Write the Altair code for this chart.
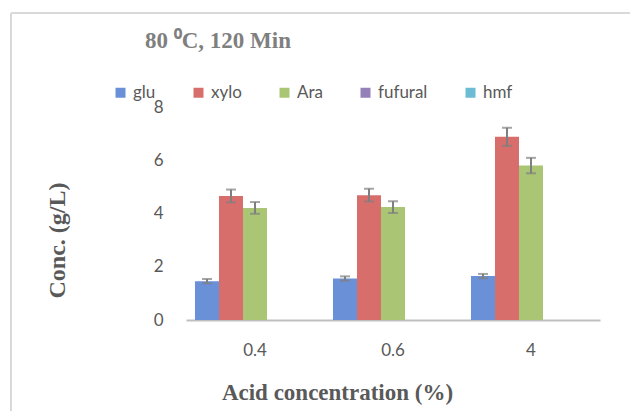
import altair as alt
import pandas as pd

categories = ["0.4", "0.6", "4"]
series = ["glu", "xylo", "Ara", "fufural", "hmf"]
glu = [1.46, 1.56, 1.65]
xylo = [4.66, 4.69, 6.88]
ara = [4.21, 4.24, 5.80]
fufural = [0.0, 0.0, 0.0]
hmf = [0.0, 0.0, 0.0]
glu_err = [0.08, 0.08, 0.08]
xylo_err = [0.24, 0.24, 0.34]
ara_err = [0.22, 0.22, 0.29]
colors = ["#6a90d8", "#d86e6b", "#aac674", "#9580b8", "#6cbcd4"]

values = {"glu": glu, "xylo": xylo, "Ara": ara, "fufural": fufural, "hmf": hmf}
errors = {"glu": glu_err, "xylo": xylo_err, "Ara": ara_err}

rows = []
for s in series:
    for i, c in enumerate(categories):
        v = values[s][i]
        e = errors.get(s)
        rows.append({
            "cat": c, "series": s, "value": v,
            "lo": (v - e[i]) if e else None,
            "hi": (v + e[i]) if e else None,
        })
df = pd.DataFrame(rows)

xenc = alt.X("cat:N", sort=categories,
             scale=alt.Scale(paddingInner=0.13, paddingOuter=0.065),
             axis=alt.Axis(title="Acid concentration (%)", labelAngle=0,
                           labelFont="Lato", labelFontSize=17, labelColor="#595959",
                           labelPadding=22, ticks=False, domainColor="#bfbfbf",
                           domainWidth=2, grid=False,
                           titleFont="Liberation Serif", titleFontSize=23,
                           titleFontWeight="bold", titleColor="#595959",
                           titleX=151, titleY=72, titleBaseline="middle",
                           titleAlign="center"))
xoff = alt.XOffset("series:N", sort=series,
                   scale=alt.Scale(domain=series, paddingInner=0, paddingOuter=0))

y_axis = alt.Axis(title="Conc. (g/L)", values=[0, 2, 4, 6, 8],
                  labelFont="Lato", labelFontSize=17, labelColor="#595959",
                  labelPadding=23, ticks=False, domain=False, grid=False,
                  titleFont="Liberation Serif", titleFontSize=24,
                  titleFontWeight="bold", titleColor="#595959",
                  titleAngle=270, titleX=-129, titleY=133,
                  titleBaseline="middle", titleAlign="center")
y_scale = alt.Scale(domain=[0, 8])

base = alt.Chart(df).encode(x=xenc, xOffset=xoff)

bars = base.mark_bar().encode(
    y=alt.Y("value:Q", scale=y_scale, axis=y_axis),
    color=alt.Color("series:N", sort=series,
                    scale=alt.Scale(domain=series, range=colors),
                    legend=alt.Legend(title=None, orient="none", direction="horizontal",
                                      columns=5, legendX=-74, legendY=-23,
                                      symbolType="square", symbolSize=100,
                                      symbolStrokeWidth=0, labelFont="Lato",
                                      labelFontSize=17, labelColor="#595959",
                                      labelOffset=4, columnPadding=34)),
)

err = base.transform_filter("datum.lo != null")
rules = err.mark_rule(color="#7f7f7f", strokeWidth=2).encode(
    y=alt.Y("lo:Q", scale=y_scale, axis=y_axis), y2="hi:Q")
caps_lo = err.mark_tick(color="#7f7f7f", size=10, thickness=2).encode(
    y=alt.Y("lo:Q", scale=y_scale, axis=y_axis))
caps_hi = err.mark_tick(color="#7f7f7f", size=10, thickness=2).encode(
    y=alt.Y("hi:Q", scale=y_scale, axis=y_axis))

frame_df = pd.DataFrame({"a": [0]})
top_line = alt.Chart(frame_df).mark_rule(color="#d9d9d9", strokeWidth=2).encode(
    x=alt.value(-175), x2=alt.value(444), y=alt.value(-94))
left_line = alt.Chart(frame_df).mark_rule(color="#d9d9d9", strokeWidth=2).encode(
    x=alt.value(-175), y=alt.value(-94), y2=alt.value(304))

chart = alt.layer(top_line, left_line, bars, rules, caps_lo, caps_hi).properties(
    width=414, height=213,
    autosize=alt.AutoSizeParams(type="none"),
    padding={"left": 186, "top": 107, "right": 30, "bottom": 91},
    background="white",
    title=alt.TitleParams("80 \u2070C, 120 Min", font="Liberation Serif",
                          fontSize=23, fontWeight="bold", color="#7f7f7f",
                          anchor="start", frame="group", dx=-41, dy=45),
).configure_view(stroke=None)

chart.save("out.html", embed_options={"renderer": "svg", "actions": False})
